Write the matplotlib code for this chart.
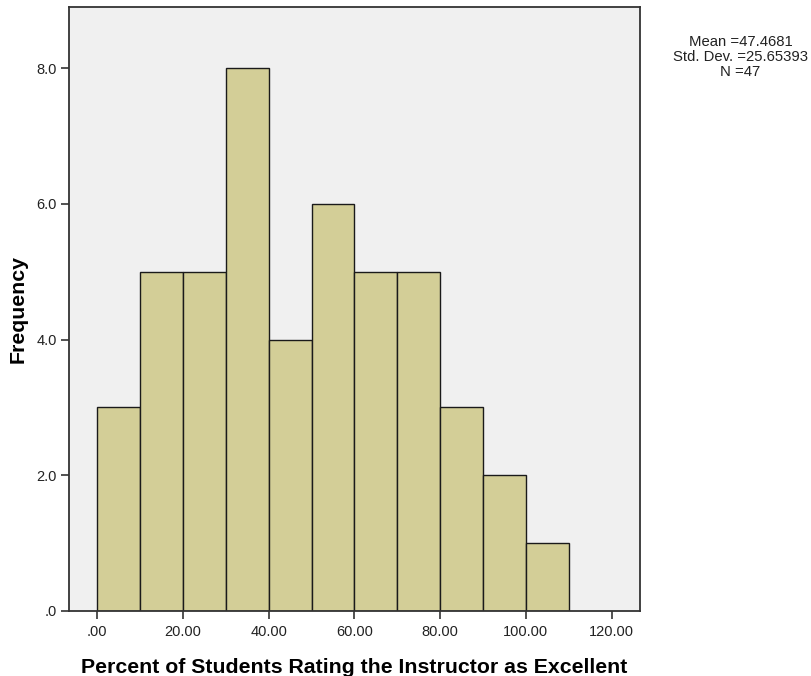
import numpy as np
import matplotlib.pyplot as plt

plt.rcParams['font.family'] = ['Liberation Sans', 'DejaVu Sans']

# Histogram data (bin width 10)
bin_edges = [0, 10, 20, 30, 40, 50, 60, 70, 80, 90, 100, 110]
counts = [3, 5, 5, 8, 4, 6, 5, 5, 3, 2, 1]
x_ticks = [0, 20, 40, 60, 80, 100, 120]
x_tick_labels = ['.00', '20.00', '40.00', '60.00', '80.00', '100.00', '120.00']
y_ticks = [0, 2, 4, 6, 8]
y_tick_labels = ['.0', '2.0', '4.0', '6.0', '8.0']
stats = ["Mean =47.4681", "Std. Dev. =25.65393", "N =47"]

fig = plt.figure(figsize=(8.11, 6.76), dpi=100)
ax = fig.add_axes([0.0851, 0.0962, 0.7039, 0.8934])
ax.set_facecolor('#F0F0F0')

ax.bar(bin_edges[:-1], counts, width=np.diff(bin_edges), align='edge',
       color='#D3CE97', edgecolor='#1a1a1a', linewidth=1.0, zorder=2)

ax.set_xlim(-6.6, 126.6)
ax.set_ylim(0, 8.9)
ax.set_xticks(x_ticks)
ax.set_xticklabels(x_tick_labels)
ax.set_yticks(y_ticks)
ax.set_yticklabels(y_tick_labels)
ax.tick_params(axis='both', direction='out', length=6, width=1.2,
               color='#333333', labelsize=10.5, labelcolor='#222222', pad=3)
ax.tick_params(axis='x', pad=4)
for s in ax.spines.values():
    s.set_color('#333333')
    s.set_linewidth(1.3)

ax.set_xlabel("Percent of Students Rating the Instructor as Excellent",
              fontsize=15.3, fontweight='bold', labelpad=14)
ax.set_ylabel("Frequency", fontsize=15.3, fontweight='bold', labelpad=6)

fig.text(0.913, 0.948, "\n".join(stats), ha='center', va='top',
         fontsize=10.7, color='#222222', linespacing=1.1)

plt.savefig("out.png", dpi=100)
